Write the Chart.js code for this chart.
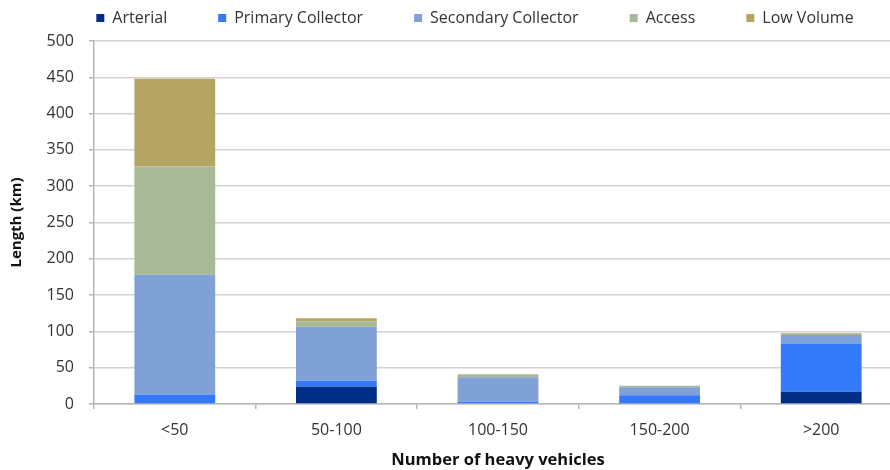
<!DOCTYPE html>
<html>
<head>
<meta charset="utf-8">
<script src="https://cdn.jsdelivr.net/npm/chart.js@4/dist/chart.umd.min.js"></script>
<style>
  html, body { margin: 0; padding: 0; background: #fff; overflow: hidden; }
  #wrap { width: 902px; height: 470px; }
</style>
</head>
<body>
<div id="wrap"><canvas id="chart" width="902" height="470"></canvas></div>
<script>
const categories = ['<50', '50-100', '100-150', '150-200', '>200'];
const arterial = [0, 24, 0, 0, 17];
const primaryCollector = [13, 8, 3, 12, 66.5];
const secondaryCollector = [165, 74.5, 34, 11, 11.5];
const access = [149, 7.5, 4, 2, 1.5];
const lowVolume = [121, 4, 0, 0, 1];
const yTicks = [0, 50, 100, 150, 200, 250, 300, 350, 400, 450, 500];

const FONT = "'Open Sans', 'Liberation Sans', Arial, sans-serif";
const LEGEND_SIZE = 16;

// legend sits higher and a bit to the right of centre, like the original
const legendShift = {
  id: 'legendShift',
  beforeInit(chart) {
    const fit = chart.legend.fit;
    chart.legend.fit = function () { fit.bind(chart.legend)(); this.height = 41; };
  },
  afterLayout(chart) {
    const lg = chart.legend;
    lg.top = 18 - chart.options.plugins.legend.labels.padding - LEGEND_SIZE / 2;
    lg.left += 24;
    lg.right += 24;
  }
};

new Chart(document.getElementById('chart'), {
  type: 'bar',
  data: {
    labels: categories,
    datasets: [
      { label: 'Arterial', data: arterial, backgroundColor: '#002E87' },
      { label: 'Primary Collector', data: primaryCollector, backgroundColor: '#3579FB' },
      { label: 'Secondary Collector', data: secondaryCollector, backgroundColor: '#7FA1D5' },
      { label: 'Access', data: access, backgroundColor: '#A8B997' },
      { label: 'Low Volume', data: lowVolume, backgroundColor: '#B5A562' },
    ]
  },
  options: {
    responsive: false,
    animation: false,
    layout: { padding: 0 },
    datasets: { bar: { categoryPercentage: 1, barPercentage: 0.5 } },
    plugins: {
      tooltip: { enabled: false },
      legend: {
        position: 'top',
        labels: {
          boxWidth: 8, boxHeight: 8, padding: 51, color: '#333',
          font: { family: FONT, size: LEGEND_SIZE }
        }
      }
    },
    scales: {
      x: {
        stacked: true,
        afterFit(s) { s.height = 66; },
        grid: { offset: true, drawOnChartArea: false, drawTicks: true, tickLength: 5, color: '#b5b5b5', lineWidth: 1.5 },
        border: { display: true, color: '#b5b5b5', width: 1.5 },
        ticks: { color: '#333', padding: 12, font: { family: FONT, size: 16 } },
        title: { display: true, text: 'Number of heavy vehicles', color: '#111', padding: { top: 4, bottom: 0 },
          font: { family: FONT, size: 16.5, weight: 'bold' } }
      },
      y: {
        stacked: true,
        min: 0, max: 500,
        afterFit(s) { s.width = 94; },
        afterBuildTicks(s) { s.ticks = yTicks.map(v => ({ value: v })); },
        grid: { color: '#d3d3d3', lineWidth: 1.5, tickLength: 5, drawTicks: true, tickColor: '#b5b5b5' },
        border: { display: true, color: '#b5b5b5', width: 1.5 },
        ticks: { color: '#333', padding: 15, font: { family: FONT, size: 16 } },
        title: { display: true, text: 'Length (km)', color: '#111', padding: { top: 8, bottom: 0 },
          font: { family: FONT, size: 15, weight: 'bold' } }
      }
    }
  },
  plugins: [legendShift]
});
</script>
</body>
</html>
